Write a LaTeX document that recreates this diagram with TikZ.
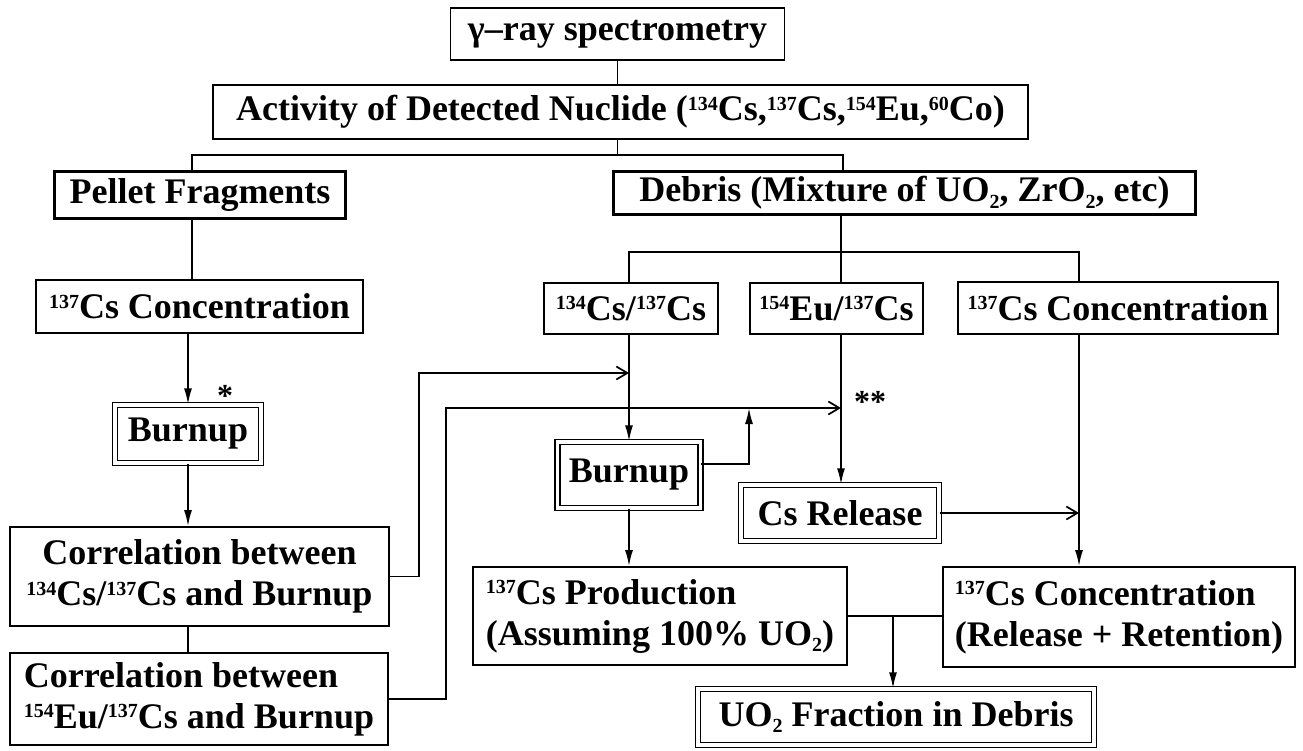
\documentclass[tikz,border=0pt]{standalone}
\usepackage{fontspec}
\setmainfont{Liberation Serif}
\usetikzlibrary{arrows.meta,calc}
\newcommand\iso[2]{\raisebox{10.5pt}{\fontsize{20}{20}\selectfont #1}#2}
\newcommand\sbs[1]{\raisebox{-6.5pt}{\fontsize{20}{20}\selectfont #1}}
\begin{document}
\begin{tikzpicture}[x=1pt,y=-1pt,
  box/.style={draw, line width=1.7pt, inner sep=0pt, font=\bfseries\fontsize{36}{41}\selectfont, align=center},
  heavybox/.style={box, line width=3pt},
  dbl/.style={box, double, double distance=3.5pt, line width=1.4pt},
  conn/.style={line width=1.7pt},
  arr/.style={conn, -{Latex[length=16pt,width=8pt]}},
  oarr/.style={conn, -{Straight Barb[length=11pt,width=13pt,line width=1.7pt]}},
  star/.style={font=\bfseries\fontsize{32}{32}\selectfont, inner sep=0pt}
]
\useasboundingbox (0,0) rectangle (1303,751);

% nodes
\node[box, minimum width=334pt, minimum height=52pt] (gamma) at (617.5,34) {γ–ray spectrometry};
\node[box, minimum width=815pt, minimum height=54pt] (act) at (620.5,112) {Activity of Detected Nuclide (\iso{134}{Cs},\iso{137}{Cs},\iso{154}{Eu},\iso{60}{Co})};
\node[heavybox, minimum width=291pt, minimum height=47pt] (pellet) at (200,195) {Pellet Fragments};
\node[heavybox, minimum width=582pt, minimum height=43pt] (debris) at (904.5,193) {Debris (Mixture of UO\sbs{2}, ZrO\sbs{2}, etc)};
\node[box, minimum width=327pt, minimum height=53pt] (concL) at (199.5,306.5) {\iso{137}{Cs} Concentration};
\node[box, minimum width=174pt, minimum height=51pt] (cs134) at (631,308.5) {\iso{134}{Cs}/\iso{137}{Cs}};
\node[box, minimum width=173pt, minimum height=51pt] (eu154) at (836.5,308.5) {\iso{154}{Eu}/\iso{137}{Cs}};
\node[box, minimum width=320pt, minimum height=52pt] (concR) at (1118,308) {\iso{137}{Cs} Concentration};
\node[dbl, minimum width=146pt, minimum height=58pt] (burnL) at (188,434) {Burnup};
\node[box, minimum width=379pt, minimum height=99pt] (corr1) at (199.5,576.5) {Correlation between\\\iso{134}{Cs}/\iso{137}{Cs} and Burnup};
\node[box, minimum width=378pt, minimum height=92pt, align=left] (corr2) at (199,699) {Correlation between\\\iso{154}{Eu}/\iso{137}{Cs} and Burnup};
\node[dbl, minimum width=143pt, minimum height=66pt] (burnR) at (629,475) {Burnup};
\node[dbl, minimum width=198pt, minimum height=56pt] (csrel) at (840,513) {Cs Release};
\node[box, minimum width=374pt, minimum height=98pt, align=left] (prod) at (660,616) {\iso{137}{Cs} Production\\(Assuming 100\% UO\sbs{2})};
\node[box, minimum width=352pt, minimum height=100pt, align=left] (conc2) at (1119,617) {\iso{137}{Cs} Concentration\\(Release + Retention)};
\node[dbl, minimum width=396pt, minimum height=56pt] (uo2) at (896,717) {UO\sbs{2} Fraction in Debris};

\node[star] (star1) at (225,396) {*};
\node[star] (star2) at (870,402) {**};

% junction coordinates
\coordinate (splitL) at (192,155);
\coordinate (splitR) at (843,155);
\coordinate (dsplit) at (841,252);
\coordinate (dl) at (629,252);
\coordinate (dr) at (1079,252);
\coordinate (j1) at (629,373);
\coordinate (j2) at (841,408);
\coordinate (j3) at (749,408);
\coordinate (j5) at (893,616);

% connectors
\draw[conn] (gamma.south) -- (gamma.south |- act.north);
\draw[conn] (act.south -| gamma.south) -- (gamma.south |- splitL);
\draw[conn] (pellet.north -| splitL) -- (splitL) -- (splitR) -- (debris.north -| splitR);
\draw[conn] (pellet.south -| splitL) -- (concL.north -| splitL);
\draw[conn] (debris.south -| dsplit) -- (dsplit);
\draw[conn] (cs134.north -| dl) -- (dl) -- (dr) -- (concR.north -| dr);
\draw[conn] (dsplit) -- (eu154.north -| dsplit);

\draw[arr] (concL.south -| burnL.north) -- (burnL.north);
\draw[arr] (burnL.south) -- (corr1.north -| burnL.south);
\draw[conn] (corr1.south -| burnL.south) -- (corr2.north -| burnL.south);

\draw[oarr] (corr1.east) -- ++(29,0) |- (j1);
\draw[oarr] (corr2.east) -- ++(57,0) |- (j2);

\draw[arr] (cs134.south -| j1) -- (burnR.north -| j1);
\draw[arr] ([yshift=11pt]burnR.east) -| (j3);
\draw[arr] (eu154.south -| j2) -- (csrel.north -| j2);
\draw[oarr] (csrel.east) -- (csrel.east -| dr);
\draw[arr] (concR.south -| dr) -- (conc2.north -| dr);
\draw[arr] (burnR.south -| j1) -- (prod.north -| j1);
\draw[conn] (prod.east) -- (prod.east -| conc2.west);
\draw[arr] (j5) -- (uo2.north -| j5);
\end{tikzpicture}
\end{document}
